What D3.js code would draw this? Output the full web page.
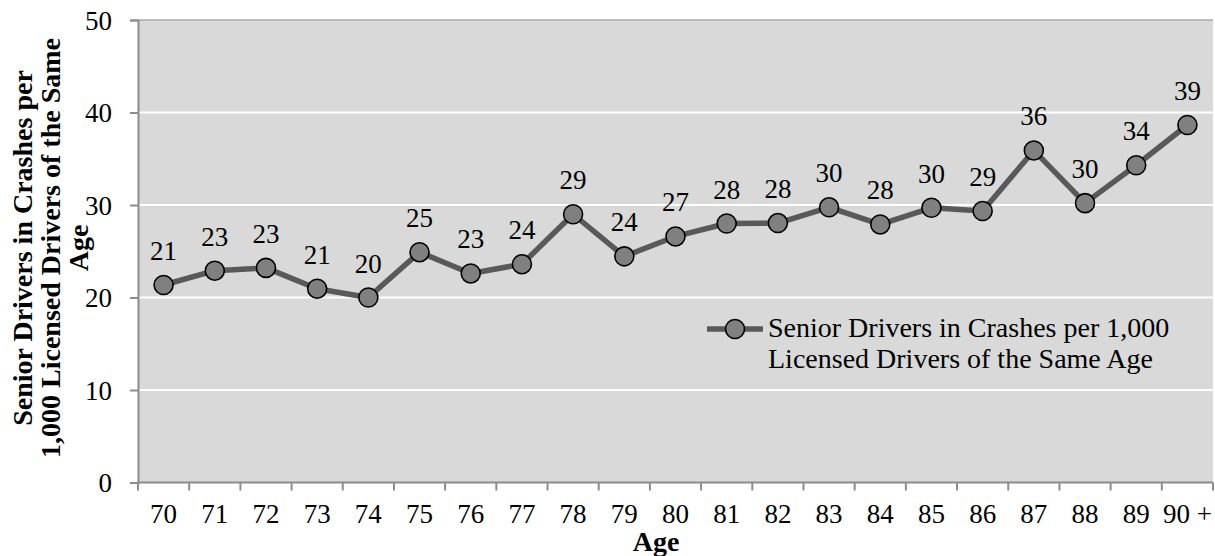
<!DOCTYPE html>
<html>
<head>
<meta charset="utf-8">
<script src="https://cdn.jsdelivr.net/npm/d3@7"></script>
<style>
  html, body { margin: 0; padding: 0; background: #fff; }
  svg { display: block; }
  text { font-family: "Liberation Serif", "Times New Roman", serif; fill: #000; }
</style>
</head>
<body>
<svg id="chart" width="1215" height="556"></svg>
<script>
// Age groups on the x axis
const ages = ["70","71","72","73","74","75","76","77","78","79","80",
              "81","82","83","84","85","86","87","88","89","90 +"];
// Senior drivers in crashes per 1,000 licensed drivers of the same age
const crashRate = [21.35, 22.9, 23.2, 20.95, 20.0, 24.9, 22.6, 23.6, 29.0, 24.45, 26.6,
                   28.0, 28.05, 29.75, 27.9, 29.7, 29.35, 35.9, 30.2, 34.3, 38.65];
const yTicks = [0, 10, 20, 30, 40, 50];
const seriesName = ["Senior Drivers in Crashes per 1,000", "Licensed Drivers of the Same Age"];
const yTitle = ["Senior Drivers in Crashes per", "1,000 Licensed Drivers of the Same", "Age"];
const xTitle = "Age";

const FS = 27;      // tick and value label size
const FS_LEG = 28;  // legend text size
const FS_B = 28;    // axis title size

const svg = d3.select("#chart");
const plot = { left: 138, right: 1213, top: 20, bottom: 482.5 };

const x = d3.scaleBand().domain(ages).range([plot.left, plot.right]);
const y = d3.scaleLinear().domain([0, 50]).range([plot.bottom, plot.top]);

// plot background
svg.append("rect")
  .attr("x", plot.left).attr("y", plot.top)
  .attr("width", plot.right - plot.left).attr("height", plot.bottom - plot.top)
  .attr("fill", "#d9d9d9");

// horizontal gridlines
svg.append("g").selectAll("line")
  .data(yTicks.filter(t => t > 0 && t < 50))
  .join("line")
  .attr("x1", plot.left).attr("x2", plot.right)
  .attr("y1", d => y(d)).attr("y2", d => y(d))
  .attr("stroke", "#fff").attr("stroke-width", 2);

svg.append("line")
  .attr("x1", plot.left).attr("x2", plot.right)
  .attr("y1", y(50)).attr("y2", y(50))
  .attr("stroke", "#a8a8a8").attr("stroke-width", 1.5);

// y axis
const yAxis = svg.append("g")
  .attr("transform", `translate(${plot.left},0)`)
  .call(d3.axisLeft(y).tickValues(yTicks).tickSize(8).tickPadding(18));
yAxis.select(".domain").attr("stroke", "#8c8c8c").attr("stroke-width", 2);
yAxis.selectAll(".tick line").attr("stroke", "#8c8c8c").attr("stroke-width", 2);
yAxis.selectAll(".tick text")
  .attr("font-family", "Liberation Serif").attr("font-size", FS)
  .attr("fill", "#000").attr("dy", 9.3);

// x axis: labels centred in each band, tick marks on band edges
const xAxis = svg.append("g")
  .attr("transform", `translate(0,${plot.bottom})`)
  .call(d3.axisBottom(x).tickSize(0));
xAxis.select(".domain").remove();
xAxis.selectAll(".tick text")
  .attr("font-family", "Liberation Serif").attr("font-size", FS)
  .attr("fill", "#000").attr("y", 40.5).attr("dy", 0);

svg.append("line")
  .attr("x1", plot.left).attr("x2", plot.right)
  .attr("y1", plot.bottom).attr("y2", plot.bottom)
  .attr("stroke", "#8c8c8c").attr("stroke-width", 2);
svg.append("g").selectAll("line")
  .data(ages.map(a => x(a)).concat([x(ages[ages.length - 1]) + x.bandwidth()]))
  .join("line")
  .attr("x1", d => d).attr("x2", d => d)
  .attr("y1", plot.bottom).attr("y2", plot.bottom + 8)
  .attr("stroke", "#8c8c8c").attr("stroke-width", 2);

// series line and markers
const cx = (d, i) => x(ages[i]) + x.bandwidth() / 2;
const line = d3.line().x((d, i) => cx(d, i)).y(d => y(d));
svg.append("path")
  .datum(crashRate)
  .attr("d", line)
  .attr("fill", "none")
  .attr("stroke", "#595959").attr("stroke-width", 5.5)
  .attr("stroke-linejoin", "round");

svg.append("g").selectAll("circle")
  .data(crashRate)
  .join("circle")
  .attr("cx", cx).attr("cy", d => y(d))
  .attr("r", 9.5)
  .attr("fill", "#808080").attr("stroke", "#000").attr("stroke-width", 1.6);

// value labels
const fmt = d3.format(".0f");
svg.append("g").selectAll("text")
  .data(crashRate)
  .join("text")
  .attr("x", cx).attr("y", d => y(d) - 25)
  .attr("text-anchor", "middle")
  .attr("font-size", FS)
  .text(d => fmt(d));

// legend
const lg = svg.append("g").attr("transform", "translate(707,329)");
lg.append("line").attr("x1", 0).attr("x2", 56).attr("y1", 0).attr("y2", 0)
  .attr("stroke", "#595959").attr("stroke-width", 5.5);
lg.append("circle").attr("cx", 28).attr("cy", 0).attr("r", 9.5)
  .attr("fill", "#808080").attr("stroke", "#000").attr("stroke-width", 1.6);
lg.selectAll("text.leg")
  .data(seriesName)
  .join("text")
  .attr("class", "leg")
  .attr("x", 61).attr("y", (d, i) => 8 + i * 31)
  .attr("font-size", FS_LEG)
  .text(d => d);

// axis titles
svg.append("text")
  .attr("x", 656).attr("y", 551)
  .attr("text-anchor", "middle")
  .attr("font-size", FS_B).attr("font-weight", "bold")
  .text(xTitle);

svg.append("g").selectAll("text")
  .data(yTitle)
  .join("text")
  .attr("transform", (d, i) => `translate(${32 + i * 28},248) rotate(-90)`)
  .attr("text-anchor", "middle")
  .attr("font-size", FS_B).attr("font-weight", "bold")
  .text(d => d);
</script>
</body>
</html>
